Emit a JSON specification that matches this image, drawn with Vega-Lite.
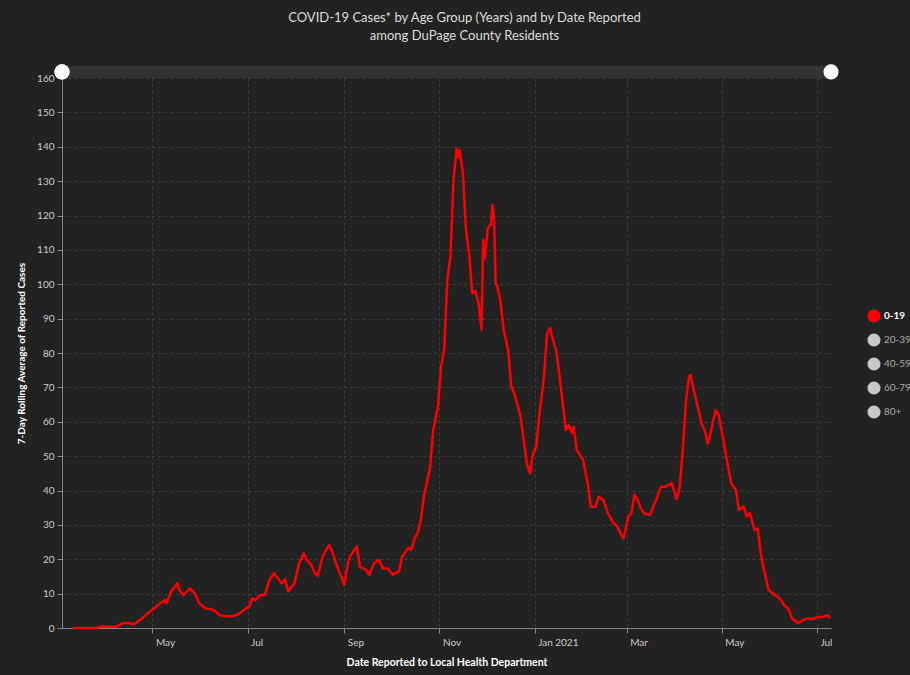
{
  "$schema": "https://vega.github.io/schema/vega-lite/v6.json",
  "width": 769,
  "height": 550,
  "autosize": {"type": "none"},
  "padding": {"left": 62, "top": 78, "right": 79, "bottom": 47},
  "background": "#222222",
  "config": {
    "view": {"stroke": null},
    "font": "Lato",
    "axis": {
      "titleFont": "Lato", "titleFontWeight": "bold", "titleColor": "#ffffff", "titlePadding": 10,
      "labelColor": "#cccccc", "labelFontSize": 10, "labelFont": "Lato", "labelOverlap": false,
      "grid": true, "gridColor": "#3d3d3d", "gridDash": [3, 3],
      "domainColor": "#888888", "tickColor": "#888888", "tickSize": 5
    },
    "axisX": {"titleFontSize": 10.5, "labelAlign": "left", "labelOffset": 3, "labelFlush": false, "labelPadding": 4},
    "axisY": {"titleFontSize": 10, "labelPadding": 3}
  },
  "title": {
    "text": ["COVID-19 Cases* by Age Group (Years) and by Date Reported", "among DuPage County Residents"],
    "color": "#dddddd", "fontSize": 13, "font": "Lato", "fontWeight": "normal",
    "anchor": "middle", "frame": "group", "dx": 18, "offset": 21, "lineHeight": 18
  },
  "data": {"values": [
    {"date": "2020-03-11", "value": 0},
    {"date": "2020-03-18", "value": 0},
    {"date": "2020-03-27", "value": 0.1},
    {"date": "2020-03-29", "value": 0.4},
    {"date": "2020-04-08", "value": 0.4},
    {"date": "2020-04-12", "value": 1.4},
    {"date": "2020-04-16", "value": 1.5},
    {"date": "2020-04-19", "value": 1.0},
    {"date": "2020-04-23", "value": 2.3},
    {"date": "2020-04-28", "value": 4.3},
    {"date": "2020-05-02", "value": 5.7},
    {"date": "2020-05-06", "value": 7.2},
    {"date": "2020-05-09", "value": 8.1},
    {"date": "2020-05-10", "value": 7.2},
    {"date": "2020-05-13", "value": 10.6},
    {"date": "2020-05-17", "value": 13.0},
    {"date": "2020-05-18", "value": 11.2},
    {"date": "2020-05-21", "value": 9.6},
    {"date": "2020-05-25", "value": 11.5},
    {"date": "2020-05-28", "value": 10.1},
    {"date": "2020-05-31", "value": 7.2},
    {"date": "2020-06-04", "value": 5.7},
    {"date": "2020-06-09", "value": 5.3},
    {"date": "2020-06-13", "value": 3.8},
    {"date": "2020-06-17", "value": 3.4},
    {"date": "2020-06-21", "value": 3.4},
    {"date": "2020-06-25", "value": 4.0},
    {"date": "2020-06-30", "value": 5.7},
    {"date": "2020-07-02", "value": 6.2},
    {"date": "2020-07-04", "value": 8.6},
    {"date": "2020-07-06", "value": 8.1},
    {"date": "2020-07-09", "value": 9.6},
    {"date": "2020-07-12", "value": 9.6},
    {"date": "2020-07-15", "value": 14.0},
    {"date": "2020-07-18", "value": 15.9},
    {"date": "2020-07-21", "value": 14.0},
    {"date": "2020-07-23", "value": 13.0},
    {"date": "2020-07-25", "value": 14.2},
    {"date": "2020-07-27", "value": 10.6},
    {"date": "2020-07-31", "value": 13.0},
    {"date": "2020-08-03", "value": 18.8},
    {"date": "2020-08-06", "value": 21.7},
    {"date": "2020-08-08", "value": 19.8},
    {"date": "2020-08-11", "value": 18.3},
    {"date": "2020-08-13", "value": 15.9},
    {"date": "2020-08-15", "value": 15.2},
    {"date": "2020-08-18", "value": 20.7},
    {"date": "2020-08-22", "value": 24.1},
    {"date": "2020-08-24", "value": 22.6},
    {"date": "2020-08-27", "value": 18.3},
    {"date": "2020-08-30", "value": 15.0},
    {"date": "2020-09-01", "value": 12.5},
    {"date": "2020-09-03", "value": 18.3},
    {"date": "2020-09-05", "value": 21.2},
    {"date": "2020-09-09", "value": 23.7},
    {"date": "2020-09-11", "value": 17.8},
    {"date": "2020-09-15", "value": 16.9},
    {"date": "2020-09-17", "value": 15.5},
    {"date": "2020-09-20", "value": 18.8},
    {"date": "2020-09-23", "value": 19.8},
    {"date": "2020-09-26", "value": 17.3},
    {"date": "2020-09-29", "value": 17.3},
    {"date": "2020-10-02", "value": 15.5},
    {"date": "2020-10-06", "value": 16.5},
    {"date": "2020-10-08", "value": 20.7},
    {"date": "2020-10-12", "value": 23.3},
    {"date": "2020-10-14", "value": 22.8},
    {"date": "2020-10-16", "value": 26.1},
    {"date": "2020-10-18", "value": 27.6},
    {"date": "2020-10-20", "value": 31.4},
    {"date": "2020-10-22", "value": 38.2},
    {"date": "2020-10-26", "value": 46.9},
    {"date": "2020-10-28", "value": 57.6},
    {"date": "2020-10-31", "value": 64.4},
    {"date": "2020-11-02", "value": 76.0},
    {"date": "2020-11-04", "value": 80.9},
    {"date": "2020-11-06", "value": 101.2},
    {"date": "2020-11-08", "value": 108.0},
    {"date": "2020-11-10", "value": 130.3},
    {"date": "2020-11-12", "value": 139.5},
    {"date": "2020-11-13", "value": 137},
    {"date": "2020-11-14", "value": 139},
    {"date": "2020-11-16", "value": 132.3},
    {"date": "2020-11-18", "value": 115.8},
    {"date": "2020-11-20", "value": 109},
    {"date": "2020-11-22", "value": 97.4},
    {"date": "2020-11-24", "value": 98.0},
    {"date": "2020-11-26", "value": 94.5},
    {"date": "2020-11-28", "value": 86.7},
    {"date": "2020-11-29", "value": 112.9},
    {"date": "2020-11-30", "value": 107.5},
    {"date": "2020-12-02", "value": 116.3},
    {"date": "2020-12-04", "value": 117.6},
    {"date": "2020-12-05", "value": 123.1},
    {"date": "2020-12-06", "value": 119},
    {"date": "2020-12-07", "value": 100.3},
    {"date": "2020-12-08", "value": 99.4},
    {"date": "2020-12-10", "value": 95.4},
    {"date": "2020-12-12", "value": 87.2},
    {"date": "2020-12-15", "value": 80.9},
    {"date": "2020-12-17", "value": 70.2},
    {"date": "2020-12-19", "value": 68.3},
    {"date": "2020-12-23", "value": 61.5},
    {"date": "2020-12-25", "value": 54.7},
    {"date": "2020-12-27", "value": 47.9},
    {"date": "2020-12-29", "value": 45.0},
    {"date": "2020-12-31", "value": 50.8},
    {"date": "2021-01-02", "value": 52.7},
    {"date": "2021-01-04", "value": 62},
    {"date": "2021-01-07", "value": 73.1},
    {"date": "2021-01-09", "value": 85.7},
    {"date": "2021-01-11", "value": 87.2},
    {"date": "2021-01-12", "value": 85},
    {"date": "2021-01-15", "value": 80.4},
    {"date": "2021-01-17", "value": 73.1},
    {"date": "2021-01-19", "value": 65.4},
    {"date": "2021-01-21", "value": 57.6},
    {"date": "2021-01-23", "value": 59.0},
    {"date": "2021-01-25", "value": 56.7},
    {"date": "2021-01-26", "value": 58.5},
    {"date": "2021-01-28", "value": 51.8},
    {"date": "2021-02-01", "value": 48.9},
    {"date": "2021-02-04", "value": 42.1},
    {"date": "2021-02-06", "value": 35.3},
    {"date": "2021-02-09", "value": 35.3},
    {"date": "2021-02-11", "value": 38.2},
    {"date": "2021-02-14", "value": 37.3},
    {"date": "2021-02-17", "value": 33.4},
    {"date": "2021-02-20", "value": 30.9},
    {"date": "2021-02-23", "value": 29.5},
    {"date": "2021-02-25", "value": 27.5},
    {"date": "2021-02-27", "value": 26.1},
    {"date": "2021-03-02", "value": 32.4},
    {"date": "2021-03-04", "value": 33.4},
    {"date": "2021-03-06", "value": 38.7},
    {"date": "2021-03-08", "value": 37.3},
    {"date": "2021-03-10", "value": 34.8},
    {"date": "2021-03-12", "value": 33.4},
    {"date": "2021-03-16", "value": 32.9},
    {"date": "2021-03-18", "value": 35.3},
    {"date": "2021-03-20", "value": 37.3},
    {"date": "2021-03-23", "value": 41.1},
    {"date": "2021-03-26", "value": 41.1},
    {"date": "2021-03-30", "value": 42.1},
    {"date": "2021-04-02", "value": 37.5},
    {"date": "2021-04-04", "value": 41.1},
    {"date": "2021-04-06", "value": 51.8},
    {"date": "2021-04-08", "value": 66},
    {"date": "2021-04-10", "value": 73.1},
    {"date": "2021-04-11", "value": 73.6},
    {"date": "2021-04-13", "value": 69.3},
    {"date": "2021-04-16", "value": 63.4},
    {"date": "2021-04-18", "value": 59.5},
    {"date": "2021-04-20", "value": 57.6},
    {"date": "2021-04-22", "value": 53.7},
    {"date": "2021-04-24", "value": 57.1},
    {"date": "2021-04-27", "value": 63.4},
    {"date": "2021-04-29", "value": 62.0},
    {"date": "2021-05-02", "value": 54.7},
    {"date": "2021-05-05", "value": 46.9},
    {"date": "2021-05-07", "value": 42.1},
    {"date": "2021-05-10", "value": 40.2},
    {"date": "2021-05-12", "value": 34.3},
    {"date": "2021-05-15", "value": 35.3},
    {"date": "2021-05-17", "value": 32.4},
    {"date": "2021-05-19", "value": 33.4},
    {"date": "2021-05-22", "value": 28.5},
    {"date": "2021-05-24", "value": 29.0},
    {"date": "2021-05-26", "value": 21.7},
    {"date": "2021-05-28", "value": 16.9},
    {"date": "2021-05-31", "value": 11.1},
    {"date": "2021-06-04", "value": 9.6},
    {"date": "2021-06-07", "value": 8.7},
    {"date": "2021-06-10", "value": 6.7},
    {"date": "2021-06-13", "value": 5.3},
    {"date": "2021-06-15", "value": 2.8},
    {"date": "2021-06-19", "value": 1.4},
    {"date": "2021-06-22", "value": 2.3},
    {"date": "2021-06-25", "value": 2.8},
    {"date": "2021-06-28", "value": 2.6},
    {"date": "2021-07-01", "value": 3.1},
    {"date": "2021-07-05", "value": 3.3},
    {"date": "2021-07-08", "value": 3.7},
    {"date": "2021-07-09", "value": 2.8}
  ]},
  "layer": [
    {
      "mark": {"type": "line", "strokeWidth": 2.5, "strokeJoin": "round"},
      "encoding": {
        "x": {
          "field": "date", "type": "temporal",
          "scale": {"domain": [{"year": 2020, "month": 3, "date": 4}, {"year": 2021, "month": 7, "date": 10}], "nice": false},
          "axis": {
            "title": "Date Reported to Local Health Department",
            "tickCount": {"interval": "month", "step": 2},
            "labelExpr": "month(datum.value) == 0 ? timeFormat(datum.value, '%b %Y') : timeFormat(datum.value, '%b')"
          }
        },
        "y": {
          "field": "value", "type": "quantitative",
          "scale": {"domain": [0, 160], "nice": false},
          "axis": {
            "title": "7-Day Rolling Average of Reported Cases",
            "values": [0, 10, 20, 30, 40, 50, 60, 70, 80, 90, 100, 110, 120, 130, 140, 150, 160]
          }
        },
        "color": {
          "datum": "0-19",
          "scale": {"domain": ["0-19", "20-39", "40-59", "60-79", "80+"], "range": ["#ff0000", "#c8c8c8", "#c8c8c8", "#c8c8c8", "#c8c8c8"]},
          "legend": {
            "orient": "none", "legendX": 805, "legendY": 231, "title": null,
            "symbolType": "circle", "symbolSize": 170, "symbolStrokeWidth": 0,
            "labelFont": "Lato", "labelFontSize": 10, "labelOffset": 3, "rowPadding": 10,
            "encode": {
              "symbols": {"update": {"fill": {"signal": "scale('color', datum.value)"}, "opacity": {"value": 1}, "strokeWidth": {"value": 0}}},
              "labels": {"update": {"fill": {"signal": "datum.value == '0-19' ? '#ffffff' : '#aaaaaa'"}, "fontWeight": {"signal": "datum.value == '0-19' ? 'bold' : 'normal'"}}}
            }
          }
        }
      }
    },
    {
      "data": {"values": [{}]},
      "mark": {"type": "rect", "color": "#333333"},
      "encoding": {
        "x": {"datum": {"year": 2020, "month": 3, "date": 4}, "type": "temporal",
          "axis": {
            "title": "Date Reported to Local Health Department",
            "tickCount": {"interval": "month", "step": 2},
            "labelExpr": "month(datum.value) == 0 ? timeFormat(datum.value, '%b %Y') : timeFormat(datum.value, '%b')"
          }},
        "x2": {"datum": {"year": 2021, "month": 7, "date": 10}},
        "y": {"datum": 160, "type": "quantitative",
          "axis": {
            "title": "7-Day Rolling Average of Reported Cases",
            "values": [0, 10, 20, 30, 40, 50, 60, 70, 80, 90, 100, 110, 120, 130, 140, 150, 160]
          }},
        "y2": {"datum": 163.6}
      }
    },
    {
      "data": {"values": [{"end": "start"}, {"end": "stop"}]},
      "mark": {"type": "point", "filled": true, "color": "#ffffff", "opacity": 1, "size": 230},
      "encoding": {
        "x": {"datum": {"year": 2020, "month": 3, "date": 4}, "type": "temporal",
          "axis": {
            "title": "Date Reported to Local Health Department",
            "tickCount": {"interval": "month", "step": 2},
            "labelExpr": "month(datum.value) == 0 ? timeFormat(datum.value, '%b %Y') : timeFormat(datum.value, '%b')"
          }},
        "y": {"datum": 161.8, "type": "quantitative",
          "axis": {
            "title": "7-Day Rolling Average of Reported Cases",
            "values": [0, 10, 20, 30, 40, 50, 60, 70, 80, 90, 100, 110, 120, 130, 140, 150, 160]
          }}
      }
    },
    {
      "data": {"values": [{}]},
      "mark": {"type": "point", "filled": true, "color": "#ffffff", "opacity": 1, "size": 230},
      "encoding": {
        "x": {"datum": {"year": 2021, "month": 7, "date": 10}, "type": "temporal",
          "axis": {
            "title": "Date Reported to Local Health Department",
            "tickCount": {"interval": "month", "step": 2},
            "labelExpr": "month(datum.value) == 0 ? timeFormat(datum.value, '%b %Y') : timeFormat(datum.value, '%b')"
          }},
        "y": {"datum": 161.8, "type": "quantitative",
          "axis": {
            "title": "7-Day Rolling Average of Reported Cases",
            "values": [0, 10, 20, 30, 40, 50, 60, 70, 80, 90, 100, 110, 120, 130, 140, 150, 160]
          }}
      }
    }
  ]
}
